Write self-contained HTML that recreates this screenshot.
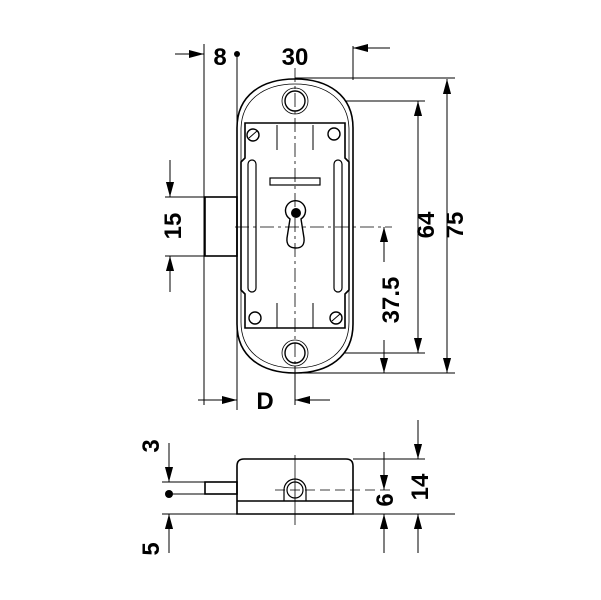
<!DOCTYPE html>
<html><head><meta charset="utf-8"><style>html,body{margin:0;padding:0;background:#fff}svg{display:block}</style></head>
<body>
<svg width="601" height="600" viewBox="0 0 601 600" xmlns="http://www.w3.org/2000/svg" font-family="Liberation Sans, sans-serif" font-weight="bold" font-size="24">
<defs>
<marker id="a" viewBox="0 0 10 10" refX="10" refY="5" markerWidth="15" markerHeight="15" markerUnits="userSpaceOnUse" orient="auto"><path d="M0,2.3 L10,5 L0,7.7 Z" fill="#000"/></marker>
</defs>
<g fill="none" stroke="#000" stroke-width="1">
<line x1="204" y1="44" x2="204" y2="405"/>
<line x1="237" y1="54" x2="237" y2="410"/>
<line x1="353" y1="46" x2="353" y2="80"/>
<line x1="295" y1="78" x2="455" y2="78"/>
<line x1="295" y1="373" x2="455" y2="373"/>
<line x1="345" y1="101" x2="425" y2="101"/>
<line x1="345" y1="353" x2="425" y2="353"/>
<line x1="165" y1="197" x2="205" y2="197"/>
<line x1="165" y1="256" x2="205" y2="256"/>
<line x1="295" y1="366" x2="295" y2="405"/>
<line x1="175" y1="54" x2="204" y2="54" marker-end="url(#a)"/>
<line x1="390" y1="48" x2="353" y2="48" marker-end="url(#a)"/>
<line x1="447" y1="225" x2="447" y2="79" marker-end="url(#a)"/>
<line x1="447" y1="225" x2="447" y2="373" marker-end="url(#a)"/>
<line x1="418" y1="225" x2="418" y2="101" marker-end="url(#a)"/>
<line x1="418" y1="225" x2="418" y2="353" marker-end="url(#a)"/>
<line x1="384" y1="262" x2="384" y2="227" marker-end="url(#a)"/>
<line x1="384" y1="340" x2="384" y2="373" marker-end="url(#a)"/>
<line x1="170" y1="160" x2="170" y2="197" marker-end="url(#a)"/>
<line x1="170" y1="292" x2="170" y2="256" marker-end="url(#a)"/>
<line x1="198" y1="400" x2="237" y2="400" marker-end="url(#a)"/>
<line x1="330" y1="400" x2="295" y2="400" marker-end="url(#a)"/>
<line x1="295" y1="68" x2="295" y2="375" stroke-dasharray="14,4,3,4" stroke-width="0.8"/>
<line x1="235" y1="227" x2="392" y2="227" stroke-dasharray="14,4,3,4" stroke-width="0.8"/>
<path d="M237,128 C237,95 262,79 295,79 C328,79 353,95 353,128 L353,324 C353,357 328,373 295,373 C262,373 237,357 237,324 Z" stroke-width="1.6"/>
<path d="M241,130 C241,100 264,84 295,84 C326,84 349,100 349,130 L349,322 C349,352 326,368 295,368 C264,368 241,352 241,322 Z" stroke-width="0.8"/>
<circle cx="295" cy="101" r="10" stroke-width="1.4"/><circle cx="295" cy="101" r="13" stroke-width="0.8"/>
<circle cx="295" cy="353" r="10" stroke-width="1.4"/><circle cx="295" cy="353" r="13" stroke-width="0.8"/>
<path d="M245,123 L345,123 L345,158 L349,162 L349,290 L345,294 L345,328 L245,328 L245,294 L241,290 L241,162 L245,158 Z" stroke-width="1.6"/>
<rect x="248" y="160" width="8" height="132" rx="4" stroke-width="1.2"/>
<rect x="334" y="160" width="8" height="132" rx="4" stroke-width="1.2"/>
<line x1="277" y1="125" x2="277" y2="150"/><line x1="313" y1="125" x2="313" y2="150"/>
<line x1="277" y1="303" x2="277" y2="328"/><line x1="313" y1="303" x2="313" y2="328"/>
<circle cx="253" cy="135" r="6" stroke-width="1.4"/><line x1="249" y1="138" x2="257" y2="131"/>
<circle cx="334" cy="134" r="6" stroke-width="1.4"/>
<circle cx="255" cy="318" r="6" stroke-width="1.4"/>
<circle cx="336" cy="318" r="6" stroke-width="1.4"/><line x1="332" y1="321" x2="340" y2="314"/>
<rect x="270" y="178" width="50" height="7" stroke-width="1.2"/>
<path d="M290,219 A10,10 0 1 1 301,219 L304,238 Q305,248 296,248 Q286,248 287,238 Z" stroke-width="1.4"/>
<rect x="205" y="197" width="32" height="59" stroke-width="1.6"/>
<line x1="162" y1="482" x2="205" y2="482"/>
<line x1="162" y1="514" x2="455" y2="514"/>
<line x1="353" y1="459" x2="425" y2="459"/>
<line x1="169" y1="494" x2="205" y2="494"/>
<line x1="295" y1="455" x2="295" y2="525" stroke-width="0.8"/>
<line x1="275" y1="490" x2="390" y2="490" stroke-dasharray="10,5" stroke-width="0.8"/>
<path d="M237,514 L237,466 Q237,459 244,459 L346,459 Q353,459 353,466 L353,514 Z" stroke-width="1.6"/>
<line x1="237" y1="501" x2="353" y2="501" stroke-width="1.6"/>
<rect x="205" y="482" width="32" height="12" stroke-width="1.6"/>
<path d="M284,501 L284,490 A11,11 0 0 1 306,490 L306,501" stroke-width="1.2"/>
<circle cx="295" cy="490" r="8" stroke-width="1.2"/>
<line x1="169" y1="443" x2="169" y2="482" marker-end="url(#a)"/>
<line x1="169" y1="553" x2="169" y2="514" marker-end="url(#a)"/>
<line x1="384" y1="452" x2="384" y2="490" marker-end="url(#a)"/>
<line x1="384" y1="553" x2="384" y2="514" marker-end="url(#a)"/>
<line x1="418" y1="420" x2="418" y2="459" marker-end="url(#a)"/>
<line x1="418" y1="553" x2="418" y2="514" marker-end="url(#a)"/>
</g>
<circle cx="296" cy="213" r="5"/>
<circle cx="237" cy="54" r="3"/>
<circle cx="169" cy="494" r="4"/>
<text x="220" y="65" text-anchor="middle">8</text>
<text x="295" y="65" text-anchor="middle">30</text>
<text x="265" y="409" text-anchor="middle">D</text>
<text transform="translate(181,226) rotate(-90)" text-anchor="middle">15</text>
<text transform="translate(434,225) rotate(-90)" text-anchor="middle">64</text>
<text transform="translate(463,225) rotate(-90)" text-anchor="middle">75</text>
<text transform="translate(399,300) rotate(-90)" text-anchor="middle">37.5</text>
<text transform="translate(159,446) rotate(-90)" text-anchor="middle">3</text>
<text transform="translate(159,549) rotate(-90)" text-anchor="middle">5</text>
<text transform="translate(393,500) rotate(-90)" text-anchor="middle">6</text>
<text transform="translate(428,487) rotate(-90)" text-anchor="middle">14</text>
</svg>
</body></html>
